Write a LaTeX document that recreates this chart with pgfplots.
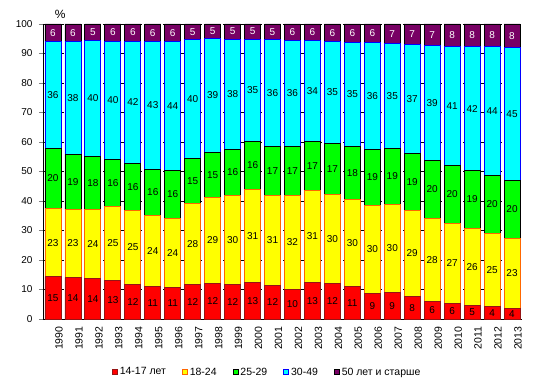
\documentclass[border=0pt]{standalone}
\usepackage{pgfplots}
\pgfplotsset{compat=1.18}
\usepackage{pgfplotstable}
\usepackage{fontspec}
\setmainfont{Liberation Sans}
\definecolor{cRed}{RGB}{255,0,0}
\definecolor{cRedE}{RGB}{150,20,20}
\definecolor{cYel}{RGB}{255,255,0}
\definecolor{cYelE}{RGB}{255,102,0}
\definecolor{cGrn}{RGB}{0,255,0}
\definecolor{cCya}{RGB}{0,255,255}
\definecolor{cCyaE}{RGB}{0,0,255}
\definecolor{cPur}{RGB}{120,0,100}

% r = 14-17, yl = 18-24, g = 25-29, c = 30-49, p = 50+ ; l* = printed labels
\pgfplotstableread{
x  r    yl   g    c    p   lr ly lg lc lp
0  14.3 23.1 20.5 36.2 5.9 15 23 20 36 6
1  14.0 23.2 18.6 38.2 6.0 14 23 19 38 6
2  13.7 23.5 18.0 39.3 5.5 14 24 18 40 5
3  13.1 25.1 15.9 40.1 5.8 13 25 16 40 6
4  11.8 24.9 16.1 41.4 5.8 12 25 16 42 6
5  11.0 24.2 15.5 43.4 5.9 11 24 16 43 6
6  10.6 23.5 16.3 43.6 6.0 11 24 16 44 6
7  11.8 27.4 15.3 40.3 5.2 12 28 15 40 5
8  12.1 29.0 15.4 38.5 5.0 12 29 15 39 5
9  11.8 30.1 15.6 37.4 5.1 12 30 16 38 5
10 12.4 31.6 16.2 34.7 5.1 13 31 16 35 5
11 11.4 30.5 16.6 36.3 5.2 12 31 17 36 5
12 10.1 31.8 16.6 36.0 5.5 10 32 17 36 6
13 12.4 31.2 16.6 34.3 5.5 13 31 17 34 6
14 12.1 30.2 17.2 34.6 5.9 12 30 17 35 6
15 11.1 29.5 17.9 35.3 6.2 11 30 18 35 6
16 8.7  29.8 19.0 36.3 6.2 9  30 19 36 6
17 9.0  29.9 19.0 35.5 6.6 9  30 19 35 7
18 7.7  29.1 19.4 36.9 6.9 8  29 19 37 7
19 6.0  28.1 19.7 39.0 7.2 6  28 20 39 7
20 5.3  27.1 19.7 40.2 7.7 6  27 20 41 8
21 4.6  26.1 19.7 41.9 7.7 5  26 19 42 8
22 4.3  24.7 19.6 43.7 7.7 4  25 20 44 8
23 3.6  23.8 19.6 45.1 7.9 4  23 20 45 8
}\tAll
% label positions: middle of each segment
\pgfplotstablecreatecol[create col/expr={\thisrow{r}/2}]{mr}\tAll
\pgfplotstablecreatecol[create col/expr={\thisrow{r}+\thisrow{yl}/2}]{my}\tAll
\pgfplotstablecreatecol[create col/expr={\thisrow{r}+\thisrow{yl}+\thisrow{g}/2}]{mg}\tAll
\pgfplotstablecreatecol[create col/expr={\thisrow{r}+\thisrow{yl}+\thisrow{g}+\thisrow{c}/2}]{mc}\tAll
\pgfplotstablecreatecol[create col/expr={\thisrow{r}+\thisrow{yl}+\thisrow{g}+\thisrow{c}+\thisrow{p}/2}]{mp}\tAll

\pgfplotsset{
  common/.style={
    at={(43pt,68pt)}, anchor=south west,
    scale only axis, width=479pt, height=295pt,
    xmin=-0.5, xmax=23.5, ymin=0, ymax=100,
    clip=false,
  },
  lbl/.style={only marks, mark=none, nodes near coords, point meta=explicit symbolic,
    every node near coord/.style={anchor=center, inner sep=0pt, font=\fontsize{10}{12}\selectfont, text=#1}},
}

\begin{document}
\begin{tikzpicture}
\useasboundingbox (0,0) rectangle (536pt,387pt);
\begin{axis}[
  common,
  ybar stacked, bar width=16pt,
  xtick={0,...,23},
  xticklabels={1990,1991,1992,1993,1994,1995,1996,1997,1998,1999,2000,2001,2002,2003,2004,2005,2006,2007,2008,2009,2010,2011,2012,2013},
  xticklabel style={rotate=90, anchor=east, yshift=-6pt, font=\fontsize{10.5}{12}\selectfont},
  ytick={0,10,...,100},
  yticklabel style={font=\fontsize{10}{12}\selectfont, xshift=-3pt},
  /pgf/number format/assume math mode=true,
  axis lines*=left,
  axis line style={line width=0.8pt, -},
  major x tick style={draw=none},
  tick align=outside, major tick length=4pt,
  ymajorgrids, grid style={dashed, black, line width=0.6pt},
  legend columns=5,
  legend style={at={(0.468,-0.18)}, anchor=center, draw=none, font=\fontsize{10.5}{12}\selectfont,
    /tikz/every even column/.append style={column sep=14pt}, inner sep=0pt},
  legend image code/.code={\draw[#1, line width=0.8pt] (0pt,-2.5pt) rectangle (5pt,2.5pt);},
]
\addplot[fill=cRed, draw=cRedE, line width=0.8pt] table[x=x,y=r] {\tAll};
\addlegendentry{14-17 лет}
\addplot[fill=cYel, draw=cYelE, line width=0.8pt] table[x=x,y=yl] {\tAll};
\addlegendentry{18-24}
\addplot[fill=cGrn, draw=black, line width=0.8pt] table[x=x,y=g] {\tAll};
\addlegendentry{25-29}
\addplot[fill=cCya, draw=cCyaE, line width=0.8pt] table[x=x,y=c] {\tAll};
\addlegendentry{30-49}
\addplot[fill=cPur, draw=black, line width=0.8pt] table[x=x,y=p] {\tAll};
\addlegendentry{50 лет и старше}
\node[font=\fontsize{12}{14}\selectfont, anchor=south] at (rel axis cs:0.036,1.005) {\%};
\end{axis}
\begin{axis}[common, hide axis]
\addplot[lbl=black] table[x=x,y=mr,meta=lr] {\tAll};
\addplot[lbl=black] table[x=x,y=my,meta=ly] {\tAll};
\addplot[lbl=black] table[x=x,y=mg,meta=lg] {\tAll};
\addplot[lbl=black] table[x=x,y=mc,meta=lc] {\tAll};
\addplot[lbl=white] table[x=x,y=mp,meta=lp] {\tAll};
\end{axis}
\end{tikzpicture}
\end{document}
